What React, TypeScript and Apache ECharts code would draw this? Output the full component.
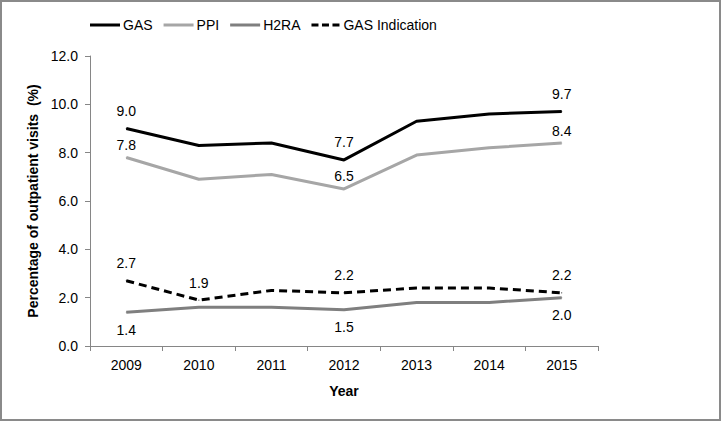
import React, { useEffect, useRef } from "react";
import * as echarts from "echarts";

const years = ["2009", "2010", "2011", "2012", "2013", "2014", "2015"];
const gas = [9.0, 8.3, 8.4, 7.7, 9.3, 9.6, 9.7];
const ppi = [7.8, 6.9, 7.1, 6.5, 7.9, 8.2, 8.4];
const h2ra = [1.4, 1.6, 1.6, 1.5, 1.8, 1.8, 2.0];
const gasIndication = [2.7, 1.9, 2.3, 2.2, 2.4, 2.4, 2.2];

// indices of points that carry a value label
const gasLabelIdx = [0, 3, 6];
const ppiLabelIdx = [0, 3, 6];
const h2raLabelIdx = [0, 3, 6];
const indicationLabelIdx = [0, 1, 3, 6];

const FONT = "'Liberation Sans', Arial, sans-serif";

const SOLID_ICON = "path://M0,0H30V3H0Z";
const DASH_ICON = "path://M0,0H7V3H0Z M10.5,0H17.5V3H10.5Z M21,0H28V3H21Z";

function withLabels(values: number[], idx: number[], position: string, distance: number) {
  return values.map((v, i) =>
    idx.includes(i)
      ? { value: v, label: { show: true, position, distance } }
      : { value: v }
  );
}

export default function App() {
  const ref = useRef<HTMLDivElement>(null);
  useEffect(() => {
    document.body.style.margin = "0";
    const chart = echarts.init(ref.current!, null, { renderer: "svg" });
    const labelBase = {
      color: "#000",
      fontFamily: FONT,
      fontSize: 14,
      formatter: (p: any) => Number(p.value).toFixed(1),
    };
    const mk = (name: string, data: any[], color: string, type: any) => ({
      name,
      type: "line",
      data,
      symbol: "circle",
      symbolSize: 1,
      itemStyle: { color },
      lineStyle: { color, width: 3, type },
      label: { ...labelBase },
      z: 3,
    });
    chart.setOption({
      animation: false,
      backgroundColor: "#fff",
      textStyle: { fontFamily: FONT },
      graphic: [
        {
          type: "rect",
          shape: { x: 1, y: 1, width: 719, height: 419 },
          style: { fill: "none", stroke: "#8a8a8a", lineWidth: 2 },
          silent: true,
        },
      ],
      legend: {
        left: 90,
        top: 18,
        padding: 0,
        itemWidth: 30,
        itemHeight: 3,
        itemGap: 11,
        textStyle: { fontFamily: FONT, fontSize: 14, color: "#000", padding: [0, 0, 0, -2] },
        data: [
          { name: "GAS", icon: SOLID_ICON },
          { name: "PPI", icon: SOLID_ICON },
          { name: "H2RA", icon: SOLID_ICON },
          { name: "GAS Indication", icon: DASH_ICON },
        ],
      },
      grid: { left: 90, right: 123, top: 56, bottom: 75 },
      xAxis: {
        type: "category",
        data: years,
        boundaryGap: true,
        name: "Year",
        nameLocation: "middle",
        nameGap: 38,
        nameTextStyle: { fontFamily: FONT, fontSize: 14, fontWeight: "bold", color: "#000" },
        axisLine: { lineStyle: { color: "#868686", width: 1 } },
        axisTick: { show: true, length: 5, lineStyle: { color: "#868686" } },
        axisLabel: { fontFamily: FONT, fontSize: 14, color: "#000", margin: 12 },
        splitLine: { show: false },
      },
      yAxis: {
        type: "value",
        min: 0,
        max: 12,
        interval: 2,
        name: "Percentage of outpatient visits  (%)",
        nameLocation: "middle",
        nameGap: 50,
        nameTextStyle: { fontFamily: FONT, fontSize: 14, fontWeight: "bold", color: "#000" },
        axisLine: { show: true, lineStyle: { color: "#868686", width: 1 } },
        axisTick: { show: true, length: 5, lineStyle: { color: "#868686" } },
        axisLabel: {
          fontFamily: FONT,
          fontSize: 14,
          color: "#000",
          margin: 12,
          formatter: (v: number) => v.toFixed(1),
        },
        splitLine: { show: false },
      },
      series: [
        mk("GAS", withLabels(gas, gasLabelIdx, "top", 10), "#000000", "solid"),
        mk("PPI", withLabels(ppi, ppiLabelIdx, "top", 5), "#a6a6a6", "solid"),
        mk("H2RA", withLabels(h2ra, h2raLabelIdx, "bottom", 10), "#7f7f7f", "solid"),
        mk("GAS Indication", withLabels(gasIndication, indicationLabelIdx, "top", 10), "#000000", [8, 5]),
      ],
    });
    return () => chart.dispose();
  }, []);
  return <div ref={ref} style={{ width: 721, height: 421 }} />;
}
